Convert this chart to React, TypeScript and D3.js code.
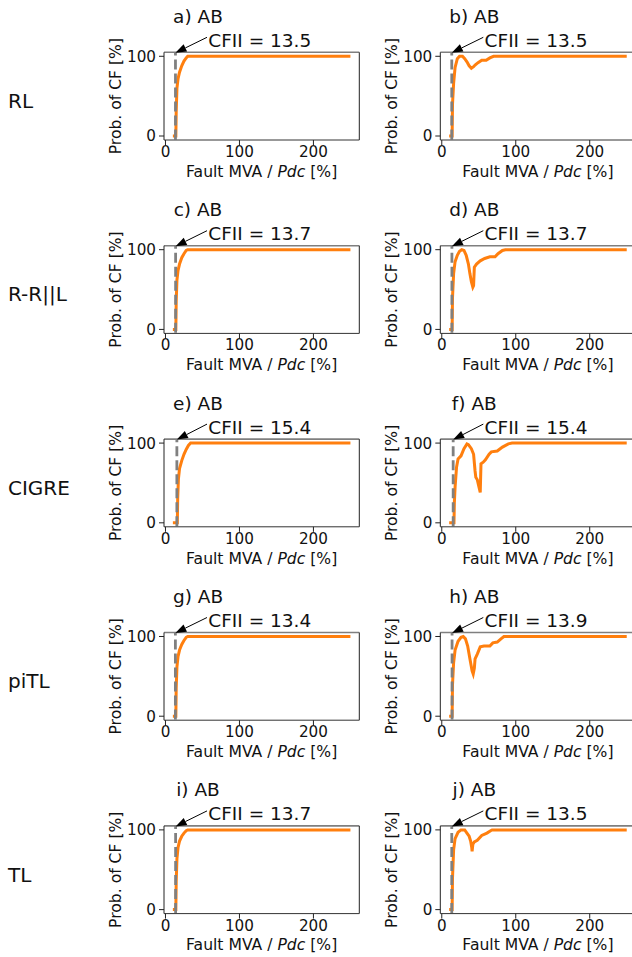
import React from "react";
import * as d3 from "d3";

// ---------- data ----------
const rowLabels = ["RL", "R-R||L", "CIGRE", "piTL", "TL"];
const panelLetters = ["a", "b", "c", "d", "e", "f", "g", "h", "i", "j"];
const faultType = "AB";
const cfiiValues = [13.5, 13.5, 13.7, 13.7, 15.4, 15.4, 13.4, 13.9, 13.7, 13.5];
const xTicks = [0, 100, 200];
const yTicks = [0, 100];

const aX = [10, 14, 14.5, 15.5, 17, 19, 22, 25, 28, 30, 250];
const aY = [0, 0, 30, 60, 72, 80, 88, 94, 98, 100, 100];
const bX = [10, 14, 14.5, 16, 18, 21, 24, 28, 31, 34, 37, 40, 43, 45, 49, 54, 60, 65, 70, 250];
const bY = [0, 0, 40, 66, 86, 97, 100, 100, 97, 93, 88, 85, 87, 89, 92, 95, 95, 98, 100, 100];
const cX = [10, 14, 14.5, 15.5, 17, 19, 22, 25, 28, 30, 250];
const cY = [0, 0, 35, 62, 74, 82, 90, 95, 99, 100, 100];
const dX = [10, 14, 14.5, 16, 18, 21, 24, 27, 30, 33, 36, 38, 40, 42, 43, 44, 47, 52, 58, 65, 72, 76, 82, 86, 250];
const dY = [0, 0, 40, 70, 85, 93, 98, 100, 99, 93, 82, 70, 60, 53, 55, 78, 82, 86, 89, 91, 91, 95, 99, 100, 100];
const eX = [10, 16, 16.5, 17.5, 19, 22, 25, 28, 31, 34, 250];
const eY = [0, 0, 30, 55, 68, 78, 86, 92, 97, 100, 100];
const fX = [10, 16.5, 17, 18, 20, 22, 26, 30, 34, 36, 40, 43, 45, 46, 48, 50, 52, 53, 56, 59, 64, 67, 75, 82, 90, 95, 250];
const fY = [0, 0, 25, 45, 70, 80, 84, 93, 99, 98, 93, 86, 65, 57, 54, 46, 38, 74, 76, 79, 86, 89, 90, 95, 99, 100, 100];
const gX = [10, 14, 14.5, 15.5, 17, 19, 22, 25, 28, 30, 250];
const gY = [0, 0, 35, 62, 75, 83, 90, 95, 99, 100, 100];
const hX = [10, 14, 14.5, 16, 18, 22, 26, 29, 32, 35, 38, 41, 42.5, 44, 45, 48, 52, 57, 65, 69, 75, 80, 84, 250];
const hY = [0, 0, 40, 67, 83, 94, 99, 100, 97, 88, 72, 57, 53, 60, 72, 78, 87, 88, 88, 92, 93, 97, 100, 100];
const iX = [10, 14, 14.5, 15.5, 17, 19, 22, 25, 28, 30, 250];
const iY = [0, 0, 35, 64, 78, 86, 92, 96, 99, 100, 100];
const jX = [10, 14, 14.5, 16, 18, 22, 26, 31, 34, 37, 39, 40.5, 41, 42, 44, 48, 54, 61, 66, 68, 250];
const jY = [0, 0, 40, 75, 89, 97, 100, 100, 96, 92, 86, 78, 73, 82, 85, 87, 93, 96, 99, 100, 100];

const curvesX = [aX, bX, cX, dX, eX, fX, gX, hX, iX, jX];
const curvesY = [aY, bY, cY, dY, eY, fY, gY, hY, iY, jY];

// ---------- layout ----------
const W = 632;
const H = 957;
const colLeft = [164, 440.3];
const axW = 195.3;
const axH = 87.7;
const top0 = 52.3;
const rowPitch = 193.4;
const FONT = "DejaVu Sans, sans-serif";
const ORANGE = "#ff7f0e";

function Panel({ idx }: { idx: number }) {
  const row = Math.floor(idx / 2);
  const col = idx % 2;
  const left = colLeft[col];
  const top = top0 + row * rowPitch;
  const x = d3.scaleLinear().domain([-2, 262]).range([left, left + axW]);
  const y = d3.scaleLinear().domain([-5, 105]).range([top + axH, top]);
  const pts: [number, number][] = curvesX[idx].map((v, i) => [v, curvesY[idx][i]]);
  const line = d3
    .line<[number, number]>()
    .x((p) => x(p[0]))
    .y((p) => y(p[1]));
  const cf = cfiiValues[idx];
  const tipX = x(cf);
  const tipY = top + 0.5;
  const tailX = left + 43;
  const tailY = top - 15;
  const ang = Math.atan2(tipY - tailY, tipX - tailX);
  const hl = 11;
  const hw = 4;
  const bx = tipX - hl * Math.cos(ang);
  const by = tipY - hl * Math.sin(ang);
  const head = [
    [tipX, tipY],
    [bx + hw * Math.sin(ang), by - hw * Math.cos(ang)],
    [bx - hw * Math.sin(ang), by + hw * Math.cos(ang)],
  ]
    .map((p) => p.join(","))
    .join(" ");
  const bottom = top + axH;
  return (
    <g>
      {/* curve */}
      <path d={line(pts) || ""} fill="none" stroke={ORANGE} strokeWidth={3} />
      {/* CFII dashed line */}
      <line
        x1={tipX}
        x2={tipX}
        y1={y(-0.5) + 3}
        y2={top}
        stroke="#808080"
        strokeWidth={2.8}
        strokeDasharray="10 4"
      />
      {/* spines */}
      <line x1={left} x2={left + axW} y1={top} y2={top} stroke="#7f7f7f" strokeWidth={1.6} />
      <line x1={left} x2={left} y1={top} y2={bottom} stroke="#222" strokeWidth={1} />
      <line x1={left + axW} x2={left + axW} y1={top} y2={bottom} stroke="#222" strokeWidth={1} />
      <line x1={left} x2={left + axW} y1={bottom} y2={bottom} stroke="#333" strokeWidth={1} />
      {/* x ticks */}
      {xTicks.map((t) => (
        <g key={"x" + t}>
          <line x1={x(t)} x2={x(t)} y1={bottom} y2={bottom + 5} stroke="#222" strokeWidth={1} />
          <text x={x(t)} y={bottom + 17} fontSize={15.2} fontFamily={FONT} textAnchor="middle" fill="#111">
            {t}
          </text>
        </g>
      ))}
      {/* y ticks */}
      {yTicks.map((t) => (
        <g key={"y" + t}>
          <line x1={left - 5} x2={left} y1={y(t)} y2={y(t)} stroke="#222" strokeWidth={1} />
          <text
            x={left - 8}
            y={y(t)}
            dy="0.36em"
            fontSize={15.2}
            fontFamily={FONT}
            textAnchor="end"
            fill="#111"
          >
            {t}
          </text>
        </g>
      ))}
      {/* axis labels */}
      <text
        x={left + axW / 2}
        y={bottom + 36.7}
        fontSize={15.6}
        fontFamily={FONT}
        textAnchor="middle"
        fill="#111"
      >
        Fault MVA / <tspan fontStyle="italic">Pdc</tspan> [%]
      </text>
      <text
        transform={`translate(${left - 43.5},${top + axH / 2}) rotate(-90)`}
        fontSize={15.6}
        fontFamily={FONT}
        textAnchor="middle"
        fill="#111"
      >
        Prob. of CF [%]
      </text>
      {/* title */}
      <text x={left + 34} y={top - 29.6} fontSize={18.5} fontFamily={FONT} textAnchor="middle" fill="#111">
        {panelLetters[idx]}) {faultType}
      </text>
      {/* annotation */}
      <line x1={tailX} y1={tailY} x2={bx} y2={by} stroke="#000" strokeWidth={1} />
      <polygon points={head} fill="#000" />
      <text x={left + 44.3} y={top - 5.6} fontSize={18.5} fontFamily={FONT} fill="#111">
        CFII = {cf}
      </text>
    </g>
  );
}

export default function App() {
  return (
    <svg
      width={W}
      height={H}
      style={{ position: "absolute", left: 0, top: 0, background: "#fff" }}
    >
      <rect width={W} height={H} fill="#fff" />
      {rowLabels.map((r, i) => (
        <text key={r} x={8} y={108 + i * rowPitch} fontSize={20} fontFamily={FONT} fill="#111">
          {r}
        </text>
      ))}
      {panelLetters.map((_, i) => (
        <Panel key={i} idx={i} />
      ))}
    </svg>
  );
}
